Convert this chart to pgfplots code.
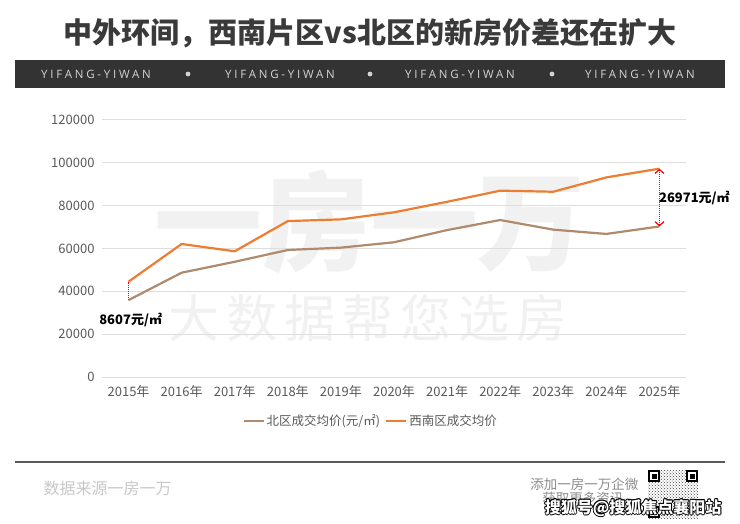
\documentclass[border=0pt]{standalone}
\usepackage{pgfplots}
\pgfplotsset{compat=1.18}
\usepackage{pgfplotstable}
\usepackage{fontspec}
\setmainfont{Noto Sans CJK SC}
\newfontfamily\bandfont[LetterSpace=24]{Open Sans}
\newfontfamily\wmfont[LetterSpace=14]{Noto Sans CJK SC}
\usetikzlibrary{arrows.meta,patterns}
\definecolor{orangeL}{HTML}{ED7D31}
\definecolor{brownL}{HTML}{B08A6C}
\definecolor{titlec}{HTML}{3A3A3A}
\definecolor{bandc}{HTML}{333333}
\definecolor{bandtext}{HTML}{D4D4D4}
\definecolor{tickc}{HTML}{595959}
\definecolor{gridc}{HTML}{DEDEDE}
\definecolor{wm}{HTML}{F1F1F1}
\definecolor{footc}{HTML}{C8C8C8}
\definecolor{footc2}{HTML}{8C8C8C}
\pgfplotstableread{
x north sw
0 35900 44507
1 48700 62100
2 53800 58700
3 59300 72800
4 60400 73600
5 62900 76900
6 68600 81800
7 73300 87000
8 68800 86500
9 66800 93200
10 70300 97270
}\datatable
\begin{document}
\begin{tikzpicture}[x=1pt,y=1pt]
\useasboundingbox[fill=white] (0,0) rectangle (740,523);
% title
\node[font=\bfseries\fontsize{29}{29}\selectfont, text=titlec] at (370,490) {中外环间，西南片区vs北区的新房价差还在扩大};
% band
\fill[bandc] (15,435) rectangle (725,463);
\foreach \cx in {96,280,460,640}{
  \node[font=\bandfont\fontsize{11.5}{11.5}\selectfont, text=bandtext] at (\cx,449) {YIFANG-YIWAN};
}
\foreach \cx in {188,370,552}{
  \fill[bandtext] (\cx,449) circle (2.4);
}
% watermark
\node[font=\bfseries\fontsize{108}{108}\selectfont, text=wm] at (370,301) {一房一万};
\node[font=\wmfont\fontsize{51}{51}\selectfont, text=wm] at (368,205) {大数据帮您选房};
\begin{axis}[
  at={(102pt,146pt)}, anchor=south west,
  scale only axis, width=584pt, height=257pt,
  xmin=-0.5, xmax=10.5, ymin=0, ymax=120000,
  xtick={0,...,10},
  xticklabels={2015年,2016年,2017年,2018年,2019年,2020年,2021年,2022年,2023年,2024年,2025年},
  ytick={0,20000,40000,60000,80000,100000,120000},
  scaled y ticks=false,
  yticklabel style={/pgf/number format/fixed, /pgf/number format/precision=0,
    /pgf/number format/1000 sep={}, /pgf/number format/assume math mode=true, xshift=-4pt},
  axis line style={draw=none},
  major tick length=0pt,
  ymajorgrids, grid style={gridc, line width=1pt},
  ticklabel style={font=\fontsize{13}{13}\selectfont, text=tickc},
  xticklabel style={yshift=-5pt},
  clip=false,
  legend columns=2,
  legend style={at={(0.46,-0.171)}, anchor=center, draw=none, fill=none,
    font=\fontsize{12.5}{13}\selectfont, text=tickc,
    /tikz/every even column/.append style={column sep=3pt}},
  legend cell align=left,
  legend image code/.code={\draw[#1, line width=2.2pt] (0pt,0pt) -- (20pt,0pt);},
]
\addplot[brownL, line width=2.2pt] table[x=x, y=north] {\datatable};
\addlegendentry{北区成交均价(元/㎡)}
\addplot[orangeL, line width=2.2pt] table[x=x, y=sw] {\datatable};
\addlegendentry{西南区成交均价}
\draw[red, densely dotted, line width=1pt] (axis cs:0,35900) -- (axis cs:0,44507);
\node[font=\bfseries\fontsize{13}{13}\selectfont, text=black] at (axis cs:0.04,26600) {8607元/㎡};
\draw[red, densely dotted, line width=1pt, {Straight Barb[length=4pt,width=9pt,line width=1.2pt]}-{Straight Barb[length=4pt,width=9pt,line width=1.2pt]}] (axis cs:10,70300) -- (axis cs:10,97270);
\node[anchor=west, inner sep=0pt, font=\bfseries\fontsize{13}{13}\selectfont, text=black] at (axis cs:10,83600) {\hspace{-0.5pt}26971元/㎡};
\end{axis}
% footer
\draw[line width=2pt, color=tickc] (15,61) -- (725,61);
\node[anchor=west, font=\fontsize{16}{16}\selectfont, text=footc] at (40,35) {数据来源一房一万};
\node[anchor=east, font=\fontsize{13.5}{14}\selectfont, text=footc2] at (642,39) {添加一房一万企微};
\node[anchor=east, font=\fontsize{13.5}{14}\selectfont, text=footc2] at (627,25) {获取更多资讯};
% QR
\fill[white] (648,5) rectangle (698,53);
\fill[pattern=crosshatch dots, pattern color=black!75] (648,5) rectangle (698,53);
\foreach \qx/\qy in {648/41,686/41,648/5}{
  \fill[white] (\qx,\qy) rectangle ++(12,12);
  \draw[black, line width=1.6pt] (\qx+0.8,\qy+0.8) rectangle ++(10.4,10.4);
  \fill[black] (\qx+3.5,\qy+3.5) rectangle ++(5,5);
}
% overlay text with outline
\foreach \dx/\dy in {-0.8/0,0.8/0,0/-0.8,0/0.8,-0.6/-0.6,0.6/0.6,-0.6/0.6,0.6/-0.6}{
  \node[anchor=east, font=\bfseries\fontsize{16}{16}\selectfont, text=black] at (725+\dx,15+\dy) {搜狐号@搜狐焦点襄阳站};
}
\node[anchor=east, font=\bfseries\fontsize{16}{16}\selectfont, text=white] at (725,15) {搜狐号@搜狐焦点襄阳站};
\end{tikzpicture}
\end{document}
